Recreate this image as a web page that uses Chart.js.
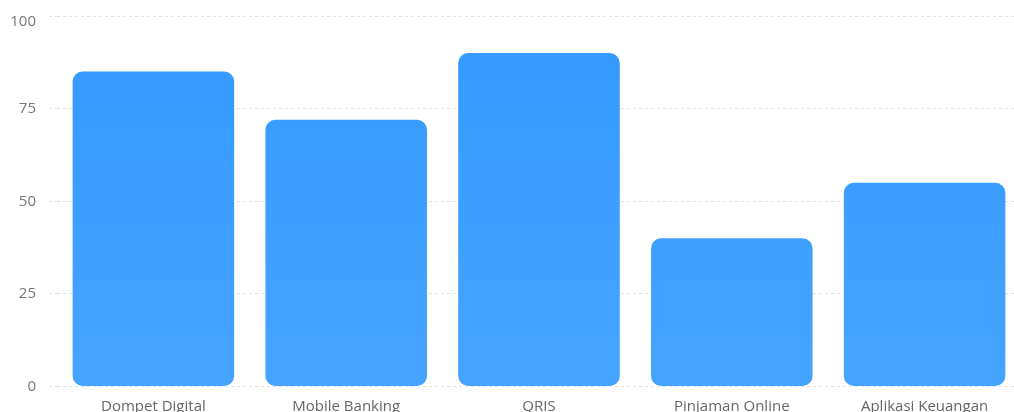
<!DOCTYPE html>
<html>
<head>
<meta charset="utf-8">
<script src="https://cdn.jsdelivr.net/npm/chart.js@4"></script>
<style>
  html, body { margin: 0; padding: 0; background: #fff; overflow: hidden; }
  #wrap { position: absolute; left: 0; top: 0; width: 1021px; height: 412px; }
</style>
</head>
<body>
<div id="wrap"><canvas id="c"></canvas></div>
<script>
const categories = ["Dompet Digital", "Mobile Banking", "QRIS", "Pinjaman Online", "Aplikasi Keuangan"];
const values = [85, 72, 90, 40, 55];
const yTicks = [0, 25, 50, 75, 100];

function grad(ctx) {
  const chart = ctx.chart;
  const area = chart.chartArea;
  if (!area) return '#3a9cff';
  const g = chart.ctx.createLinearGradient(0, area.top, 0, area.bottom);
  g.addColorStop(0, '#3399ff');
  g.addColorStop(1, '#45a4ff');
  return g;
}

new Chart(document.getElementById('c'), {
  type: 'bar',
  data: {
    labels: categories,
    datasets: [{
      data: values,
      backgroundColor: grad,
      borderRadius: 10,
      borderSkipped: false,
      borderWidth: 0,
      categoryPercentage: 1,
      barPercentage: 0.838
    }]
  },
  options: {
    responsive: true,
    maintainAspectRatio: false,
    animation: false,
    layout: { padding: { left: 10, top: 16, right: 0, bottom: 0 } },
    plugins: { legend: { display: false }, tooltip: { enabled: false } },
    scales: {
      x: {
        grid: { display: false },
        border: { display: false },
        afterFit: (axis) => { axis.height = 25.5; axis.paddingLeft = 0; axis.paddingRight = 0; },
        ticks: { color: '#666', padding: 3, font: { family: 'Open Sans', size: 15 } }
      },
      y: {
        min: 0, max: 100,
        afterBuildTicks: (axis) => { axis.ticks = yTicks.map(v => ({ value: v })); },
        afterFit: (axis) => { axis.width = 47; axis.paddingTop = 0; axis.paddingBottom = 0; },
        grid: { color: '#e3e3e3', tickLength: 8, tickBorderDash: [3, 3], tickColor: '#e3e3e3' },
        border: { display: false, dash: [3, 3] },
        ticks: {
          color: '#777', padding: 13,
          font: { family: 'Open Sans', size: 15, lineHeight: '11px' },
          callback: (v) => v === yTicks[yTicks.length - 1] ? ['', String(v)] : String(v)
        }
      }
    }
  }
});
</script>
</body>
</html>
